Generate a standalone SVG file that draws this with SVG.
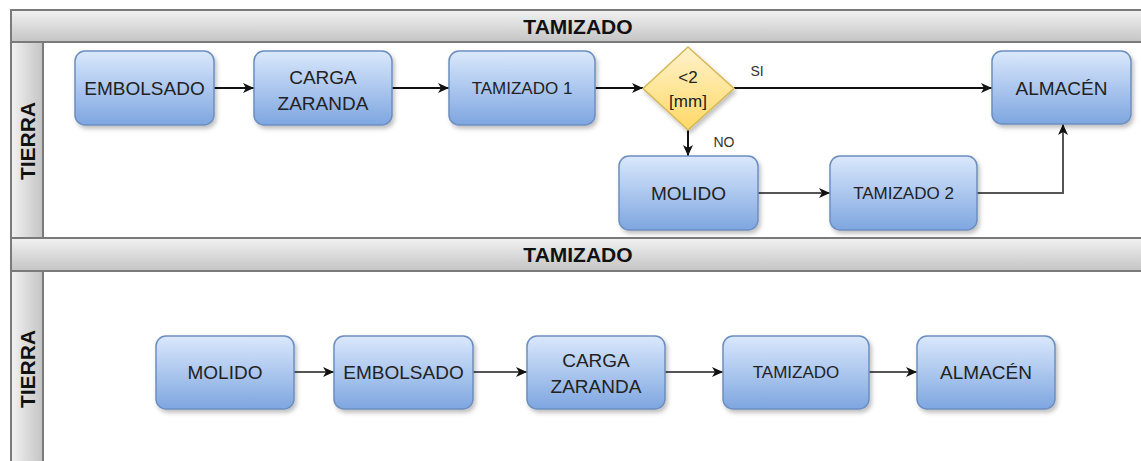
<svg xmlns="http://www.w3.org/2000/svg" width="1141" height="461" viewBox="0 0 1141 461">
<style>
.pool{fill:#ffffff;stroke:#7a7a7a;stroke-width:2}
.hdr{fill:url(#hg);stroke:#7a7a7a;stroke-width:2}
.lane{fill:url(#lg);stroke:#7a7a7a;stroke-width:2}
.title{font-family:"Liberation Sans",Arial,sans-serif;font-weight:bold;font-size:21px;fill:#111;text-anchor:middle}
.box{fill:url(#bg);stroke:#6c8ebf;stroke-width:1.5;filter:url(#sh)}
.dia{fill:url(#yg);stroke:#d6b656;stroke-width:1.5;filter:url(#sh)}
.t{font-family:"Liberation Sans",Arial,sans-serif;font-size:19px;fill:#222;text-anchor:middle}
.ts{font-family:"Liberation Sans",Arial,sans-serif;font-size:17px;fill:#222;text-anchor:middle}
.lbl{font-family:"Liberation Sans",Arial,sans-serif;font-size:14px;fill:#333;text-anchor:middle}
.c{fill:none;stroke:#111;stroke-width:2;marker-end:url(#ar)}
.c2{fill:none;stroke:#555;stroke-width:2;marker-end:url(#ar)}
</style>
<defs>
<linearGradient id="hg" x1="0" y1="0" x2="0" y2="1"><stop offset="0" stop-color="#f2f2f2"/><stop offset="1" stop-color="#c4c4c4"/></linearGradient>
<linearGradient id="lg" x1="0" y1="0" x2="1" y2="0"><stop offset="0" stop-color="#f2f2f2"/><stop offset="1" stop-color="#c4c4c4"/></linearGradient>
<linearGradient id="bg" x1="0" y1="0" x2="0" y2="1"><stop offset="0" stop-color="#dae8fc"/><stop offset="1" stop-color="#7ea6e0"/></linearGradient>
<linearGradient id="yg" x1="0" y1="0" x2="0" y2="1"><stop offset="0" stop-color="#fff2cc"/><stop offset="1" stop-color="#ffd966"/></linearGradient>
<filter id="sh" x="-20%" y="-20%" width="140%" height="150%"><feDropShadow dx="2" dy="3" stdDeviation="2" flood-color="#000" flood-opacity="0.25"/></filter>
<marker id="ar" markerUnits="userSpaceOnUse" markerWidth="12" markerHeight="10" refX="11" refY="5" orient="auto"><path d="M0,0 L11,5 L0,10 L3,5 z" fill="#111"/></marker>
</defs>

<g id="pool1">
<rect class="pool" x="11" y="10" width="1140" height="228"/>
<rect class="hdr" x="11" y="10" width="1140" height="32"/>
<text class="title" x="578" y="34">TAMIZADO</text>
<rect class="lane" x="11" y="42" width="32" height="196"/>
<text class="title" transform="translate(35,141) rotate(-90)">TIERRA</text>
</g>
<g id="pool2">
<rect class="pool" x="11" y="238" width="1140" height="240"/>
<rect class="hdr" x="11" y="238" width="1140" height="33"/>
<text class="title" x="578" y="262">TAMIZADO</text>
<rect class="lane" x="11" y="271" width="32" height="207"/>
<text class="title" transform="translate(35,369) rotate(-90)">TIERRA</text>
</g>

<g id="connectors">
<path class="c" d="M214 88 L254 88"/>
<path class="c" d="M392 88 L449 88"/>
<path class="c" d="M595 88 L643 88"/>
<path class="c" d="M734 88 L992 88"/>
<path class="c" d="M688 130 L688 156"/>
<path class="c2" d="M758 193 L830 193"/>
<path class="c2" d="M977 193 L1063 193 L1063 124"/>
<path class="c2" d="M294 372 L334 372"/>
<path class="c2" d="M473 372 L527 372"/>
<path class="c2" d="M665 372 L723 372"/>
<path class="c2" d="M869 372 L917 372"/>
<text class="lbl" x="757" y="76">SI</text>
<text class="lbl" x="724" y="147">NO</text>
</g>

<g id="n_embolsado1"><rect class="box" x="75" y="51" width="139" height="74" rx="10"/><text class="t" x="144.5" y="95">EMBOLSADO</text></g>
<g id="n_carga1"><rect class="box" x="254" y="51" width="138" height="74" rx="10"/><text class="t" x="323" y="84">CARGA</text><text class="t" x="323" y="110">ZARANDA</text></g>
<g id="n_tamizado1"><rect class="box" x="449" y="51" width="146" height="74" rx="10"/><text class="ts" x="522" y="94">TAMIZADO 1</text></g>
<g id="n_decision"><path class="dia" d="M688 47 L734 88.5 L688 130 L643 88.5 Z"/><text class="ts" x="688" y="83">&lt;2</text><text class="ts" x="688" y="107">[mm]</text></g>
<g id="n_almacen1"><rect class="box" x="992" y="51" width="139" height="73" rx="10"/><text class="t" x="1061.5" y="95">ALMACÉN</text></g>
<g id="n_molido1"><rect class="box" x="619" y="156" width="139" height="74" rx="10"/><text class="t" x="688.5" y="200">MOLIDO</text></g>
<g id="n_tamizado2"><rect class="box" x="830" y="156" width="147" height="74" rx="10"/><text class="ts" x="903.5" y="199">TAMIZADO 2</text></g>

<g id="n_molido2"><rect class="box" x="156" y="336" width="138" height="73" rx="10"/><text class="t" x="225" y="379">MOLIDO</text></g>
<g id="n_embolsado2"><rect class="box" x="334" y="336" width="139" height="73" rx="10"/><text class="t" x="403.5" y="379">EMBOLSADO</text></g>
<g id="n_carga2"><rect class="box" x="527" y="336" width="138" height="73" rx="10"/><text class="t" x="596" y="367">CARGA</text><text class="t" x="596" y="393">ZARANDA</text></g>
<g id="n_tamizado3"><rect class="box" x="723" y="336" width="146" height="73" rx="10"/><text class="ts" x="796" y="378">TAMIZADO</text></g>
<g id="n_almacen2"><rect class="box" x="917" y="336" width="138" height="73" rx="10"/><text class="t" x="986" y="379">ALMACÉN</text></g>
</svg>
